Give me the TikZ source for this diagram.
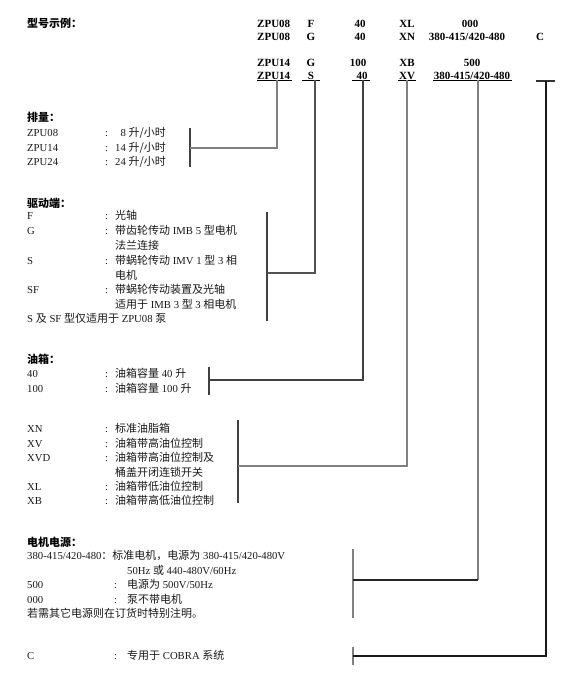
\documentclass[tikz,border=0pt]{standalone}
\usepackage{fontspec}
\setmainfont{Liberation Serif}
\newfontfamily\cjk{Noto Sans CJK SC}
\newcommand\zh[1]{{\cjk\fontsize{11}{12}\selectfont #1}}
\tikzset{
  txt/.style={anchor=base west, inner sep=0pt, font=\fontsize{10.7}{13}\selectfont, text=black!90},
  hd/.style={anchor=base west, inner sep=0pt, font=\bfseries\fontsize{11}{13}\selectfont},
  hc/.style={hd, anchor=base},
  ttl/.style={anchor=base west, inner sep=0pt, font=\bfseries\fontsize{10.7}{13}\selectfont},
  ln/.style={line width=1.1pt, draw=black!68},
  lnl/.style={line width=1.1pt, draw=black!50},
  brk/.style={line width=1.4pt, draw=black!75},
}
\begin{document}
\begin{tikzpicture}[x=1pt,y=-1pt]
\useasboundingbox[fill=white] (0,0) rectangle (579,681);
% ---------- header ----------
\node[ttl] (title) at (27,27) {\zh{\bfseries 型号示例：}};
\node[hd] (h1a) at (257,27) {ZPU08};
\node[hc] (h1b) at (311,27) {F};
\node[hc] (h1c) at (360,27) {40};
\node[hc] (h1d) at (407,27) {XL};
\node[hc] (h1e) at (470,27) {000};
\node[hd] (h2a) at (257,40) {ZPU08};
\node[hc] (h2b) at (311,40) {G};
\node[hc] (h2c) at (360,40) {40};
\node[hc] (h2d) at (407,40) {XN};
\node[hc] (h2e) at (467,40) {380-415/420-480};
\node[hc] (h2f) at (540,40) {C};
\node[hd] (h3a) at (257,66) {ZPU14};
\node[hc] (h3b) at (311,66) {G};
\node[hc] (h3c) at (358,66) {100};
\node[hc] (h3d) at (407,66) {XB};
\node[hc] (h3e) at (472,66) {500};
\node[hd] (h4a) at (257,79) {ZPU14};
\node[hc] (h4b) at (311,79) {S};
\node[hc] (h4c) at (362,79) {40};
\node[hc] (h4d) at (407,79) {XV};
\node[hc] (h4e) at (472,79) {380-415/420-480};
% underlines
\coordinate (u1l) at (257,80); \coordinate (u1r) at (292,80); \coordinate (u1) at (277,80);
\coordinate (u2l) at (302,80); \coordinate (u2r) at (320,80); \coordinate (u2) at (315,80);
\coordinate (u3l) at (352,80); \coordinate (u3r) at (370,80); \coordinate (u3) at (363,80);
\coordinate (u4l) at (398,80); \coordinate (u4r) at (416,80); \coordinate (u4) at (407,80);
\coordinate (u5l) at (433,80); \coordinate (u5r) at (512,80); \coordinate (u5) at (478,80);
\coordinate (u6l) at (536,81); \coordinate (u6r) at (555,81); \coordinate (u6) at (546,81);
\draw[line width=0.9pt] (u1l) -- (u1r) (u2l) -- (u2r) (u3l) -- (u3r) (u4l) -- (u4r) (u5l) -- (u5r);
\draw[line width=1.1pt, black!80] (u6l) -- (u6r);
% ---------- displacement ----------
\node[ttl] (t1) at (27,121) {\zh{\bfseries 排量：}};
\node[txt] (a1) at (27,136) {ZPU08};
\node[txt] (a1c) at (105,136) {:};
\node[txt] (a1d) at (115,136) {\phantom{1}8 \zh{升/小时}};
\node[txt] (a2) at (27,151) {ZPU14};
\node[txt] (a2c) at (105,151) {:};
\node[txt] (a2d) at (115,151) {14 \zh{升/小时}};
\node[txt] (a3) at (27,165) {ZPU24};
\node[txt] (a3c) at (105,165) {:};
\node[txt] (a3d) at (115,165) {24 \zh{升/小时}};
% ---------- drive ----------
\node[ttl] (t2) at (27,207) {\zh{\bfseries 驱动端：}};
\node[txt] (d1) at (27,219) {F};
\node[txt] (d1c) at (105,219) {:};
\node[txt] (d1d) at (115,219) {\zh{光轴}};
\node[txt] (d2) at (27,234) {G};
\node[txt] (d2c) at (105,234) {:};
\node[txt] (d2d) at (115,234) {\zh{带齿轮传动} IMB 5 \zh{型电机}};
\node[txt] (d2e) at (115,249) {\zh{法兰连接}};
\node[txt] (d3) at (27,264) {S};
\node[txt] (d3c) at (105,264) {:};
\node[txt] (d3d) at (115,264) {\zh{带蜗轮传动} IMV 1 \zh{型} 3 \zh{相}};
\node[txt] (d3e) at (115,279) {\zh{电机}};
\node[txt] (d4) at (27,293) {SF};
\node[txt] (d4c) at (105,293) {:};
\node[txt] (d4d) at (115,293) {\zh{带蜗轮传动装置及光轴}};
\node[txt] (d4e) at (115,308) {\zh{适用于} IMB 3 \zh{型} 3 \zh{相电机}};
\node[txt] (d5) at (27,322) {S \zh{及} SF \zh{型仅适用于} ZPU08 \zh{泵}};
% ---------- tank ----------
\node[ttl] (t3) at (27,363) {\zh{\bfseries 油箱：}};
\node[txt] (o1) at (27,377) {40};
\node[txt] (o1c) at (105,377) {:};
\node[txt] (o1d) at (115,377) {\zh{油箱容量} 40 \zh{升}};
\node[txt] (o2) at (27,392) {100};
\node[txt] (o2c) at (105,392) {:};
\node[txt] (o2d) at (115,392) {\zh{油箱容量} 100 \zh{升}};
% ---------- level control ----------
\node[txt] (x1) at (27,432) {XN};
\node[txt] (x1c) at (105,432) {:};
\node[txt] (x1d) at (115,432) {\zh{标准油脂箱}};
\node[txt] (x2) at (27,447) {XV};
\node[txt] (x2c) at (105,447) {:};
\node[txt] (x2d) at (115,447) {\zh{油箱带高油位控制}};
\node[txt] (x3) at (27,461) {XVD};
\node[txt] (x3c) at (105,461) {:};
\node[txt] (x3d) at (115,461) {\zh{油箱带高油位控制及}};
\node[txt] (x3e) at (115,476) {\zh{桶盖开闭连锁开关}};
\node[txt] (x4) at (27,490) {XL};
\node[txt] (x4c) at (105,490) {:};
\node[txt] (x4d) at (115,490) {\zh{油箱带低油位控制}};
\node[txt] (x5) at (27,504) {XB};
\node[txt] (x5c) at (105,504) {:};
\node[txt] (x5d) at (115,504) {\zh{油箱带高低油位控制}};
% ---------- motor power ----------
\node[ttl] (t4) at (27,546) {\zh{\bfseries 电机电源：}};
\node[txt] (m1) at (27,559) {380-415/420-480\zh{：标准电机，电源为} 380-415/420-480V};
\node[txt] (m1e) at (127,574) {50Hz \zh{或} 440-480V/60Hz};
\node[txt] (m2) at (27,588) {500};
\node[txt] (m2c) at (114,588) {:};
\node[txt] (m2d) at (127,588) {\zh{电源为} 500V/50Hz};
\node[txt] (m3) at (27,603) {000};
\node[txt] (m3c) at (114,603) {:};
\node[txt] (m3d) at (127,603) {\zh{泵不带电机}};
\node[txt] (m4) at (27,617) {\zh{若需其它电源则在订货时特别注明。}};
\node[txt] (c1) at (27,659) {C};
\node[txt] (c1c) at (114,659) {:};
\node[txt] (c1d) at (127,659) {\zh{专用于} COBRA \zh{系统}};
% ---------- brackets & connectors ----------
\coordinate (b1t) at (190,128); \coordinate (b1b) at (190,167); \coordinate (b1) at (190,148); \coordinate (k1) at (277,148);
\coordinate (b2t) at (267,212); \coordinate (b2b) at (267,321); \coordinate (b2) at (267,273); \coordinate (k2) at (315,273);
\coordinate (b3t) at (209,367); \coordinate (b3b) at (209,395); \coordinate (b3) at (209,380); \coordinate (k3) at (363,380);
\coordinate (b4t) at (238,420); \coordinate (b4b) at (238,503); \coordinate (b4) at (238,466); \coordinate (k4) at (407,466);
\coordinate (b5t) at (353,549); \coordinate (b5b) at (353,618); \coordinate (b5) at (353,580); \coordinate (k5) at (478,580);
\coordinate (b6t) at (353,647); \coordinate (b6b) at (353,665); \coordinate (b6) at (353,656); \coordinate (k6) at (546,656);
\draw[brk] (b1t) -- (b1b);
\draw[brk] (b2t) -- (b2b);
\draw[brk] (b3t) -- (b3b);
\draw[brk] (b4t) -- (b4b);
\draw[lnl] (b5t) -- (b5b);
\draw[lnl] (b6t) -- (b6b);
\draw[lnl] (u1) -- (k1) -- (b1);
\draw[ln] (u2) -- (k2) -- (b2);
\draw[ln, draw=black!75] (u3) -- (k3) -- (b3);
\draw[lnl] (u4) -- (k4) -- (b4);
\draw[lnl] (u5) -- (k5);
\draw[ln, draw=black!85] (k5) -- (b5);
\draw[ln, draw=black!90] (u6) -- (k6) -- (b6);
\end{tikzpicture}
\end{document}
